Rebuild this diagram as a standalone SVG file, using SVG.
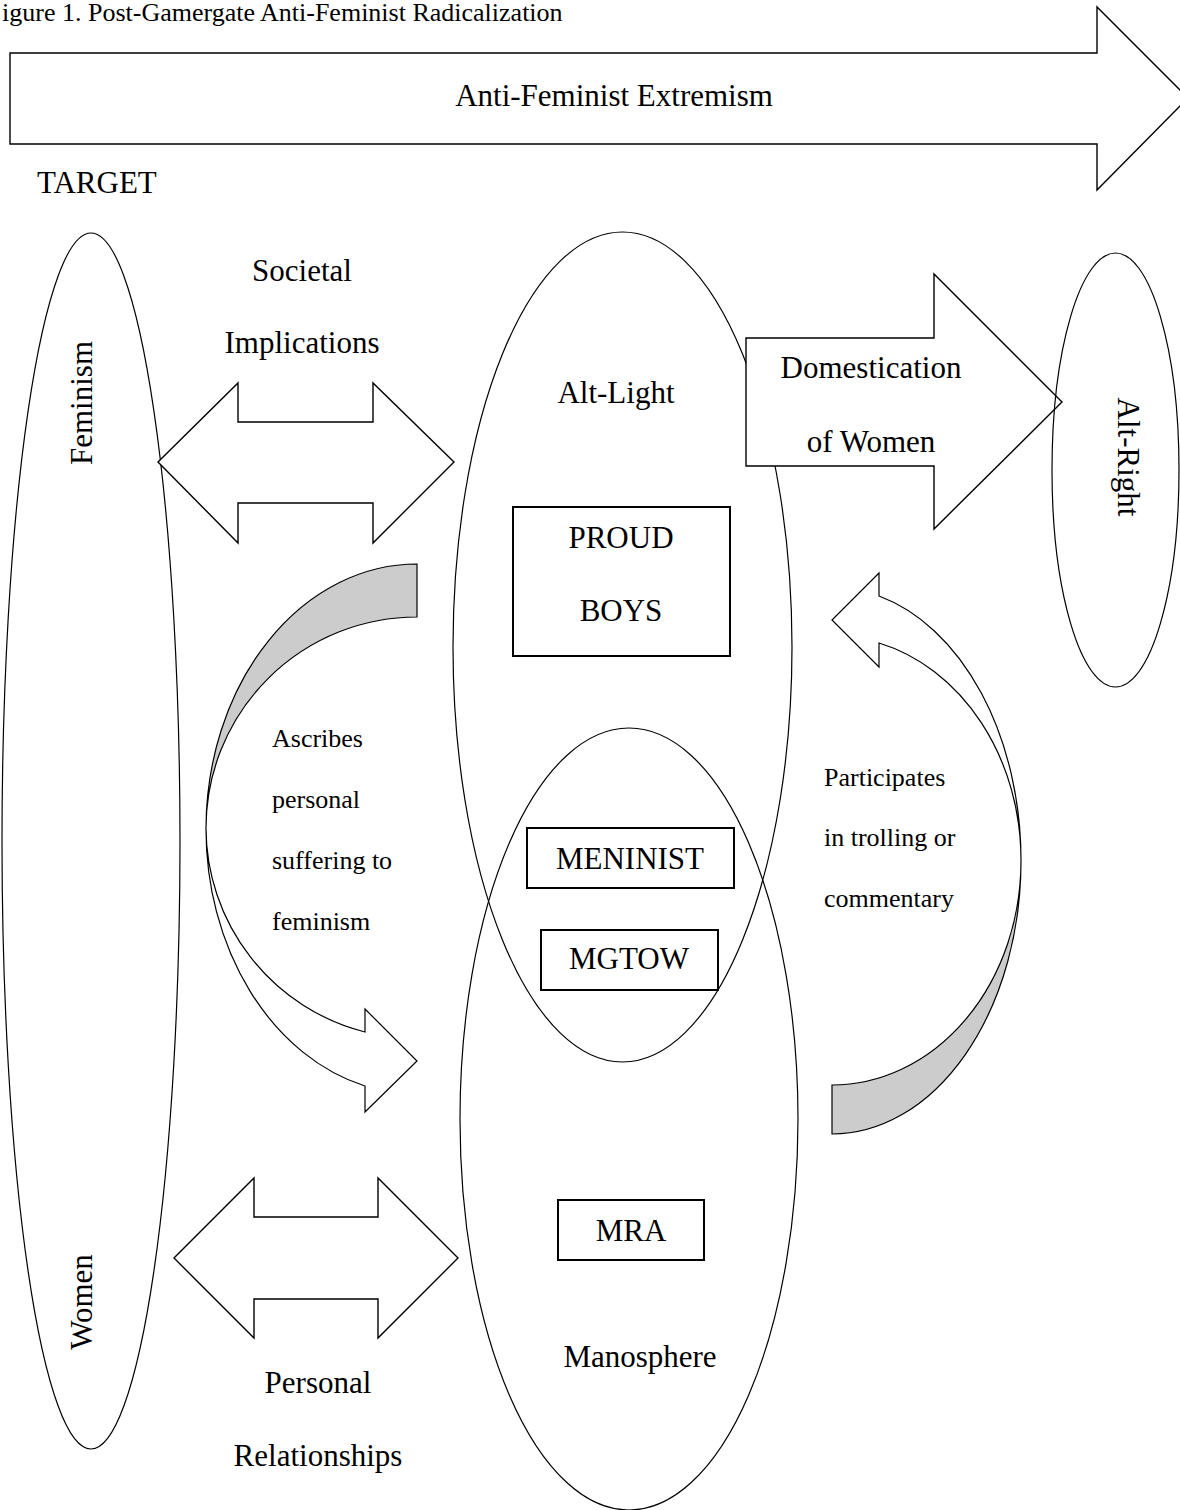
<svg xmlns="http://www.w3.org/2000/svg" width="1180" height="1510" viewBox="0 0 1180 1510">
<style>
text{font-family:"Liberation Serif","Times New Roman",serif;fill:#000}
.t31{font-size:31px}
.t26{font-size:26px}
.mid{text-anchor:middle}
.ell{fill:none;stroke:#000;stroke-width:1.2}
.box{fill:#fff;stroke:#000;stroke-width:2}
.arr{fill:#fff;stroke:#000;stroke-width:1.4;stroke-linejoin:miter}
.gray{fill:#cccccc;stroke:#000;stroke-width:1.2}
.wht{fill:#fff;stroke:#000;stroke-width:1.2}
</style>
<rect width="1180" height="1510" fill="#fff"/>
<text id="title" class="t26" x="2" y="21">igure 1. Post-Gamergate Anti-Feminist Radicalization</text>

<g id="extremism">
<path class="arr" d="M10,53 H1097 V7 L1188,98 L1097,190 V144 H10 Z"/>
<text class="t31 mid" x="614" y="106">Anti-Feminist Extremism</text>
</g>
<text id="target" class="t31" x="37" y="193">TARGET</text>

<g id="feminism-women">
<ellipse class="ell" cx="91" cy="841" rx="89" ry="608"/>
<text class="t31 mid" transform="rotate(-90 92 403)" x="92" y="403">Feminism</text>
<text class="t31 mid" transform="rotate(-90 92 1302)" x="92" y="1302">Women</text>
</g>

<g id="alt-light">
<ellipse class="ell" cx="622.5" cy="647" rx="169.5" ry="415"/>
<text class="t31 mid" x="616" y="403">Alt-Light</text>
</g>
<g id="manosphere">
<ellipse class="ell" cx="629" cy="1119" rx="169" ry="391"/>
<text class="t31 mid" x="640" y="1367">Manosphere</text>
</g>

<g id="proud-boys">
<rect class="box" x="513" y="507" width="217" height="149"/>
<text class="t31 mid" x="621" y="548">PROUD</text>
<text class="t31 mid" x="621" y="621">BOYS</text>
</g>
<g id="meninist">
<rect class="box" x="527" y="828" width="207" height="60"/>
<text class="t31 mid" x="630" y="869">MENINIST</text>
</g>
<g id="mgtow">
<rect class="box" x="541" y="930" width="177" height="60"/>
<text class="t31 mid" x="629" y="969">MGTOW</text>
</g>
<g id="mra">
<rect class="box" x="558" y="1200" width="146" height="60"/>
<text class="t31 mid" x="631" y="1241">MRA</text>
</g>

<g id="connectors">
<g id="societal">
<path class="arr" d="M158,462 L238,383 V422 H373 V383 L454,462 L373,543 V503 H238 V543 Z"/>
<text class="t31 mid" x="302" y="281">Societal</text>
<text class="t31 mid" x="302" y="353">Implications</text>
</g>
<g id="personal">
<path class="arr" d="M174,1258 L254,1178 V1217 H378 V1178 L458,1258 L378,1338 V1299 H254 V1338 Z"/>
<text class="t31 mid" x="318" y="1393">Personal</text>
<text class="t31 mid" x="318" y="1466">Relationships</text>
</g>
<g id="domestication">
<path class="arr" d="M746,338 H934 V274 L1062,402 L934,529 V466 H746 Z"/>
<text class="t31 mid" x="871" y="378">Domestication</text>
<text class="t31 mid" x="871" y="452">of Women</text>
</g>
<g id="ascribes">
<path class="gray" d="M417,564 A211 265 0 0 0 206,828 A211 211 0 0 1 417,617 Z"/>
<path class="wht" d="M206,828 A211 211 0 0 0 365,1032 L365,1009 L417,1061 L365,1112 L365,1086 A211 265 0 0 1 206,828 Z"/>
<text class="t26" x="272" y="747">Ascribes</text>
<text class="t26" x="272" y="808">personal</text>
<text class="t26" x="272" y="869">suffering to</text>
<text class="t26" x="272" y="930">feminism</text>
</g>
<g id="participates">
<path class="gray" d="M832,1134 A189 273 0 0 0 1021,861 A189 224 0 0 1 832,1085 Z"/>
<path class="wht" d="M1021,861 A189 224 0 0 0 879,643 L879,667 L832,620 L879,573 L879,596 A189 273 0 0 1 1021,861 Z"/>
<text class="t26" x="824" y="786">Participates</text>
<text class="t26" x="824" y="846">in trolling or</text>
<text class="t26" x="824" y="907">commentary</text>
</g>
</g>

<g id="alt-right">
<ellipse class="ell" cx="1115.5" cy="470" rx="63.5" ry="217"/>
<text class="t31 mid" transform="rotate(90 1118 457)" x="1118" y="457">Alt-Right</text>
</g>
</svg>
